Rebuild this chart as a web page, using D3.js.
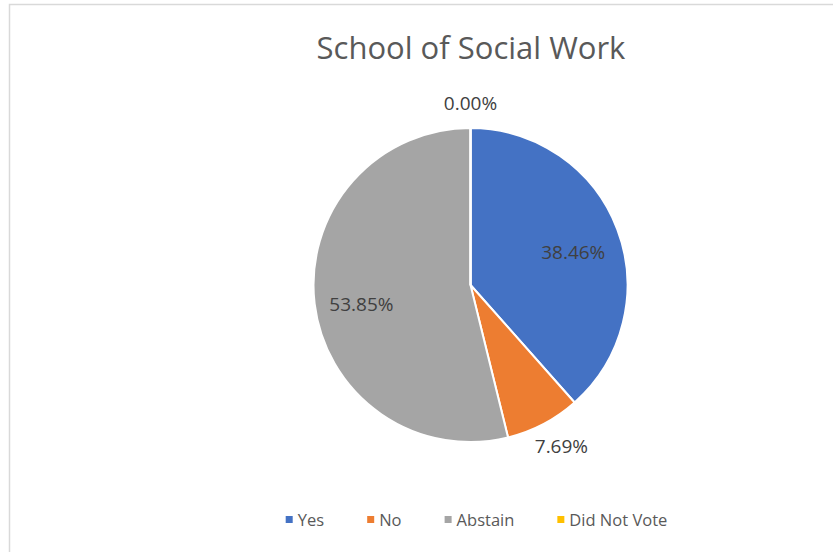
<!DOCTYPE html>
<html>
<head>
<meta charset="utf-8">
<script src="https://cdn.jsdelivr.net/npm/d3@7"></script>
<style>
  html, body { margin: 0; padding: 0; background: #fff; }
  svg { display: block; font-family: "Open Sans", "Noto Sans", sans-serif; }
</style>
</head>
<body>
<svg id="chart" width="833" height="552"></svg>
<script>
// Vote counts for the School of Social Work
const categories = ["Yes", "No", "Abstain", "Did Not Vote"];
const votes = [5, 1, 7, 0];
const colors = ["#4472C4", "#ED7D31", "#A5A5A5", "#FFC000"];
const chartTitle = "School of Social Work";

const svg = d3.select("#chart");
const W = 833, H = 552;

// chart frame (light outline)
svg.append("path")
  .attr("d", `M9.5,${H} V4.5 H${W}`)
  .attr("fill", "none")
  .attr("stroke", "#d9d9d9")
  .attr("stroke-width", 1.5);

// title
svg.append("text")
  .attr("x", 471).attr("y", 59)
  .attr("text-anchor", "middle")
  .attr("font-size", 31)
  .attr("fill", "#595959")
  .text(chartTitle);

const cx = 470.5, cy = 285, r = 157;
const total = d3.sum(votes);
const data = categories.map((c, i) => ({ name: c, value: votes[i], color: colors[i] }));

const pie = d3.pie().sort(null).value(d => d.value).startAngle(0).endAngle(2 * Math.PI);
const arcs = pie(data);
const arc = d3.arc().innerRadius(0).outerRadius(r);

const g = svg.append("g").attr("transform", `translate(${cx},${cy})`);

g.selectAll("path.slice")
  .data(arcs)
  .join("path")
  .attr("class", "slice")
  .attr("d", arc)
  .attr("fill", d => d.data.color)
  .attr("stroke", "#fff")
  .attr("stroke-width", 2)
  .attr("stroke-linejoin", "round");

// zero-size slice still gets a separator line at its angle
arcs.filter(d => d.value === 0).forEach(d => {
  const a = d.startAngle;
  g.append("line")
    .attr("x1", 0).attr("y1", 0)
    .attr("x2", Math.sin(a) * r).attr("y2", -Math.cos(a) * r)
    .attr("stroke", "#fff").attr("stroke-width", 2);
});

const fmt = v => (v / total * 100).toFixed(2) + "%";

const labels = g.selectAll("text.lbl")
  .data(arcs)
  .join("text")
  .attr("class", "lbl")
  .attr("font-size", 19)
  .attr("fill", "#404040")
  .attr("text-anchor", "middle")
  .attr("dominant-baseline", "central")
  .text(d => fmt(d.data.value));

labels.each(function (d) {
  const mid = (d.startAngle + d.endAngle) / 2;
  const dx = Math.sin(mid), dy = -Math.cos(mid);
  const share = d.data.value / total;
  const el = d3.select(this);
  if (share >= 0.1) {
    const rr = r * 0.7;
    el.attr("x", dx * rr).attr("y", dy * rr + 6);
  } else {
    const bb = this.getBBox();
    const rr = r + 12;
    el.attr("x", dx * rr + dx * bb.width / 2)
      .attr("y", dy * rr + dy * bb.height / 2);
  }
});

// legend
const legend = svg.append("g");
let x = 0;
const gap = 43;
const items = legend.selectAll("g.item").data(data).join("g").attr("class", "item");
items.append("rect")
  .attr("width", 7).attr("height", 7)
  .attr("y", -3)
  .attr("fill", d => d.color);
items.append("text")
  .attr("x", 12)
  .attr("font-size", 16.5)
  .attr("fill", "#595959")
  .attr("dominant-baseline", "central")
  .text(d => d.name);
items.each(function () {
  const w = this.getBBox().width;
  d3.select(this).attr("transform", `translate(${x},0)`);
  x += w + gap;
});
const legendW = x - gap;
legend.attr("transform", `translate(${476.5 - legendW / 2},519)`);
</script>
</body>
</html>
